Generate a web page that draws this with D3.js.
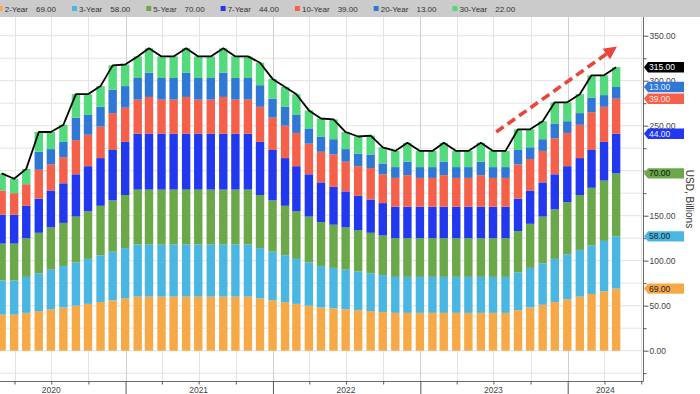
<!DOCTYPE html>
<html>
<head>
<meta charset="utf-8">
<script src="https://cdn.jsdelivr.net/npm/d3@7"></script>
<style>
  body { margin: 0; background: #fff; }
  svg { display: block; font-family: "Liberation Sans", Arial, sans-serif; }
</style>
</head>
<body>
<svg id="chart"></svg>
<script>
// monthly coupon auction sizes, USD bn (Feb 2020 .. Apr 2024)
const months = [
  "2020-02","2020-03","2020-04","2020-05","2020-06","2020-07","2020-08","2020-09","2020-10","2020-11","2020-12",
  "2021-01","2021-02","2021-03","2021-04","2021-05","2021-06","2021-07","2021-08","2021-09","2021-10","2021-11","2021-12",
  "2022-01","2022-02","2022-03","2022-04","2022-05","2022-06","2022-07","2022-08","2022-09","2022-10","2022-11","2022-12",
  "2023-01","2023-02","2023-03","2023-04","2023-05","2023-06","2023-07","2023-08","2023-09","2023-10","2023-11","2023-12",
  "2024-01","2024-02","2024-03","2024-04"
];
const y2 = [40,40,42,44,46,48,50,52,54,56,58,
  60,60,60,60,60,60,60,60,60,60,58,56,
  54,52,50,48,47,46,45,44,43,42,42,42,
  42,42,42,42,42,42,42,45,48,51,54,57,
  60,63,66,69];
const y3 = [38,38,40,42,44,46,48,50,52,54,56,
  58,58,58,58,58,58,58,58,58,58,56,54,
  52,50,48,46,45,44,43,42,41,40,40,40,
  40,40,40,40,40,40,40,42,44,46,48,50,
  52,54,56,58];
const y5 = [41,41,43,45,47,48,51,53,55,57,59,
  61,61,61,61,61,61,61,61,61,61,59,57,
  55,53,51,49,48,47,46,45,44,43,43,43,
  43,43,43,43,43,43,43,46,49,52,55,58,
  61,64,67,70];
const y7 = [32,32,36,38,41,44,47,50,53,56,59,
  62,62,62,62,62,62,62,62,62,62,59,56,
  53,50,47,44,42,40,38,37,36,35,35,35,
  35,35,35,35,35,35,35,36,37,38,39,40,
  41,42,43,44];
const y10 = [27,24,24,32,29,29,38,35,35,41,38,
  38,41,38,38,41,38,38,41,38,38,39,36,
  36,37,34,34,36,33,33,35,32,32,35,32,
  32,35,32,32,35,32,32,38,35,35,40,37,
  37,42,39,39];
const y20 = [0,0,0,20,17,17,25,22,22,26,24,
  24,27,24,24,27,24,24,27,24,24,24,21,
  21,20,17,17,17,14,14,15,12,12,15,12,
  12,15,12,12,15,12,12,16,13,13,16,13,
  13,16,13,13];
const y30 = [19,16,17,22,19,19,26,23,23,27,24,
  24,27,24,24,27,24,24,27,24,24,25,22,
  22,23,20,20,22,19,19,21,18,18,21,18,
  18,21,18,18,21,18,18,23,20,20,24,21,
  21,25,22,22];

const seriesNames = ["2-Year","3-Year","5-Year","7-Year","10-Year","20-Year","30-Year"];
const seriesValues = [y2, y3, y5, y7, y10, y20, y30];
const colors = ["#f8a947","#4ab7e3","#6aa84a","#2238ef","#f5604b","#2f78d6","#52da7c"];
const tagText = ["#222","#222","#111","#e8ecff","#ffe6e0","#dcebff","#222"];

const yTicks = [0,50,100,150,250,300,350]; // 200.00 sits under the 5-Year tag
const yearLabels = [2020, 2021, 2022, 2023, 2024];
// annotation arrow (date, value)
const arrowFrom = ["2023-07-08", 243];
const arrowTo = ["2024-05-02", 338];

const width = 700, height = 394;
const plot = { left: 0, right: 643, top: 17, bottom: 381 };

const parseMonth = s => { const [yy, mm] = s.split("-").map(Number); return new Date(yy, mm, 0); };
const parseDay = d3.timeParse("%Y-%m-%d");

const rows = months.map((m, i) => {
  const r = { date: parseMonth(m) };
  seriesNames.forEach((k, j) => r[k] = seriesValues[j][i]);
  r.total = d3.sum(seriesValues, s => s[i]);
  return r;
});

// time scale: calibrate years, then trim to the plot edges
const x = d3.scaleTime()
  .domain([new Date(2020,0,1), new Date(2024,0,1)])
  .range([-22.2, 567.7]);
x.domain([x.invert(plot.left), x.invert(plot.right)]).range([plot.left, plot.right]);

const y = d3.scaleLinear()
  .domain([-33.7, 370.8])
  .range([plot.bottom, plot.top]);

const svg = d3.select("#chart").attr("width", width).attr("height", height);

// legend strip
svg.append("rect").attr("x", 0).attr("y", 0).attr("width", width).attr("height", plot.top)
  .attr("fill", "#cbcbcb");

// grid
const grid = svg.append("g");
grid.selectAll(".hg").data(d3.range(-25, 351, 25)).join("line")
  .attr("x1", plot.left).attr("x2", plot.right)
  .attr("y1", d => y(d)).attr("y2", d => y(d))
  .attr("stroke", "#e3e3e3").attr("stroke-width", 1);
const quarters = d3.timeMonth.every(3).range(x.domain()[0], x.domain()[1]);
grid.selectAll(".vg").data(quarters).join("line")
  .attr("x1", d => Math.round(x(d)) + 0.5).attr("x2", d => Math.round(x(d)) + 0.5)
  .attr("y1", plot.top).attr("y2", plot.bottom)
  .attr("stroke", d => d.getMonth() === 0 ? "#cfcfcf" : "#e3e3e3").attr("stroke-width", 1);

// stacked bars
const stack = d3.stack().keys(seriesNames)(rows);
const bw = 8.4;
svg.append("g").selectAll("g").data(stack).join("g")
  .attr("fill", (d, i) => colors[i])
  .selectAll("rect").data(d => d).join("rect")
  .attr("x", d => x(d.data.date) - bw / 2)
  .attr("y", d => y(d[1]))
  .attr("width", bw)
  .attr("height", d => y(d[0]) - y(d[1]));

// total line
svg.append("path").datum(rows)
  .attr("fill", "none").attr("stroke", "#000").attr("stroke-width", 1.8)
  .attr("stroke-linejoin", "round")
  .attr("d", d3.line().x(d => x(d.date)).y(d => y(d.total)));

// dashed arrow
const ax0 = x(parseDay(arrowFrom[0])), ay0 = y(arrowFrom[1]);
const ax1 = x(parseDay(arrowTo[0])), ay1 = y(arrowTo[1]);
const ang = Math.atan2(ay1 - ay0, ax1 - ax0);
const headLen = 13, headW = 6.5;
const bx = ax1 - headLen * Math.cos(ang), by = ay1 - headLen * Math.sin(ang);
svg.append("line")
  .attr("x1", ax0).attr("y1", ay0).attr("x2", bx).attr("y2", by)
  .attr("stroke", "#e8453c").attr("stroke-width", 3.6).attr("stroke-dasharray", "9,5");
svg.append("path")
  .attr("d", `M${ax1},${ay1} L${bx + headW * Math.sin(ang)},${by - headW * Math.cos(ang)} L${bx - headW * Math.sin(ang)},${by + headW * Math.cos(ang)} Z`)
  .attr("fill", "#e8453c");

// axes frame
svg.append("line").attr("x1", plot.left).attr("x2", plot.right + 0.5)
  .attr("y1", plot.bottom + 0.5).attr("y2", plot.bottom + 0.5).attr("stroke", "#6b6b6b");
svg.append("line").attr("x1", plot.right + 0.5).attr("x2", plot.right + 0.5)
  .attr("y1", plot.top).attr("y2", plot.bottom + 0.5).attr("stroke", "#6b6b6b");

// right axis
const yAxis = svg.append("g").attr("transform", `translate(${plot.right + 0.5},0)`)
  .call(d3.axisRight(y).tickValues(yTicks).tickFormat(d3.format(".2f")).tickSize(5).tickSizeOuter(0));
yAxis.select(".domain").remove();
yAxis.selectAll(".tick line").attr("stroke", "#555");
yAxis.selectAll(".tick text").attr("x", 6).attr("fill", "#444")
  .style("font-size", "8.5px").style("font-family", "Liberation Sans, Arial, sans-serif");
const yMinor = svg.append("g").attr("transform", `translate(${plot.right + 0.5},0)`)
  .call(d3.axisRight(y).tickValues(d3.range(-25, 350, 50).concat([200])).tickFormat("").tickSize(3).tickSizeOuter(0));
yMinor.select(".domain").remove();
yMinor.selectAll(".tick line").attr("stroke", "#555");

// bottom axis ticks
const xq = svg.append("g").attr("transform", `translate(0,${plot.bottom + 0.5})`)
  .call(d3.axisBottom(x).tickValues(quarters.filter(d => d.getMonth() !== 0)).tickFormat("").tickSize(3).tickSizeOuter(0));
xq.select(".domain").remove();
xq.selectAll(".tick line").attr("stroke", "#555");
const xy = svg.append("g").attr("transform", `translate(0,${plot.bottom + 0.5})`)
  .call(d3.axisBottom(x).tickValues(quarters.filter(d => d.getMonth() === 0)).tickFormat("").tickSize(14).tickSizeOuter(0));
xy.select(".domain").remove();
xy.selectAll(".tick line").attr("stroke", "#555");

svg.append("g").selectAll("text").data(yearLabels).join("text")
  .attr("x", yr => {
    const mid = x(new Date(yr, 6, 1));
    return mid > plot.right - 30 ? (x(new Date(yr, 0, 1)) + plot.right) / 2 : mid;
  })
  .attr("y", 393)
  .attr("text-anchor", "middle").attr("fill", "#444").style("font-size", "8.5px")
  .text(d => d);

// value tags on the right axis (30-Year tag sits under the total tag)
const last = rows[rows.length - 1];
const lastStack = stack.map(s => s[s.length - 1]);
const tags = lastStack.slice(0, 6).map((s, i) => ({ v: s[1], label: d3.format(".2f")(seriesValues[i][seriesValues[i].length - 1]), fill: colors[i], text: tagText[i] }));
tags.push({ v: last.total, label: d3.format(".2f")(last.total), fill: "#000", text: "#fff" });
const tg = svg.append("g").selectAll("g").data(tags).join("g")
  .attr("transform", d => `translate(${plot.right + 1},${y(d.v)})`);
tg.append("path").attr("d", "M0,0 L4,-5.2 L40,-5.2 L40,5.2 L4,5.2 Z").attr("fill", d => d.fill);
tg.append("text").attr("x", 5).attr("y", 3).attr("fill", d => d.text)
  .style("font-size", "8.5px").text(d => d.label);

// axis title
svg.append("text").attr("transform", "translate(686,199) rotate(90)")
  .attr("text-anchor", "middle").attr("fill", "#333").style("font-size", "10px")
  .text("USD, Billions");

// legend
const lg = svg.append("g").style("font-size", "8px").attr("fill", "#333");
let lx = -2.3;
seriesNames.forEach((name, i) => {
  lg.append("rect").attr("x", lx).attr("y", 6).attr("width", 5).attr("height", 5).attr("fill", colors[i]);
  const t1 = lg.append("text").attr("x", lx + 7).attr("y", 11.5).text(name);
  const w1 = t1.node().getComputedTextLength();
  const t2 = lg.append("text").attr("x", lx + 7 + w1 + 8).attr("y", 11.5)
    .text(d3.format(".2f")(seriesValues[i][seriesValues[i].length - 1]));
  const w2 = t2.node().getComputedTextLength();
  lx = lx + 7 + w1 + 8 + w2 + 16;
});
</script>
</body>
</html>
